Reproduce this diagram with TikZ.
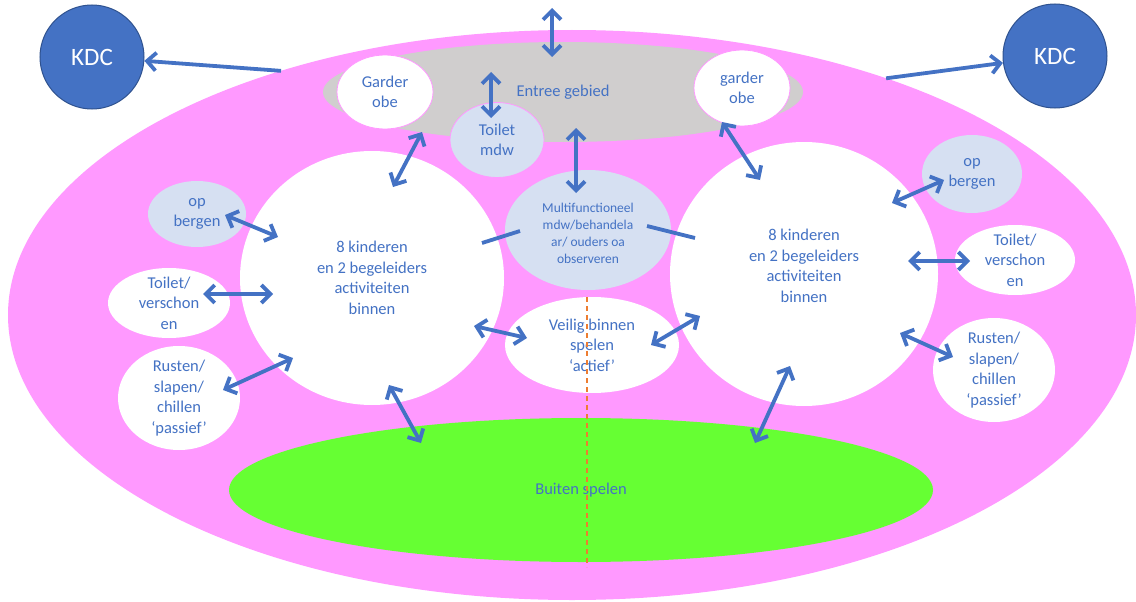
\documentclass[tikz,border=0pt]{standalone}
\usepackage{fontspec}
\setmainfont{Carlito}
\usetikzlibrary{arrows.meta,calc,shapes.geometric}
\definecolor{pinkbg}{RGB}{255,153,255}
\definecolor{greybg}{RGB}{208,206,206}
\definecolor{greenbg}{RGB}{102,255,51}
\definecolor{lblue}{RGB}{214,224,242}
\definecolor{txtblue}{RGB}{68,114,196}
\definecolor{arrblue}{RGB}{68,114,196}
\definecolor{kdcblue}{RGB}{68,114,196}
\definecolor{kdcedge}{RGB}{47,82,143}
\definecolor{dashor}{RGB}{237,125,49}
\tikzset{
  zone/.style={ellipse, inner sep=0pt, outer sep=0pt},
  txt/.style={text=txtblue, align=center, inner sep=0pt, font=\fontsize{16.5}{20.5}\selectfont},
  smalltxt/.style={text=txtblue, align=center, inner sep=0pt, font=\fontsize{13.5}{17}\selectfont},
  kdc/.style={circle, fill=kdcblue, draw=kdcedge, line width=1pt, minimum size=104pt, inner sep=0pt, text=white, font=\fontsize{25}{28}\selectfont},
  arr/.style={draw=arrblue, line width=3.8pt},
  divider/.style={draw=dashor, line width=1.2pt, dash pattern=on 5pt off 4pt}
}
\begin{document}
\begin{tikzpicture}[x=1pt,y=-1pt,>={Straight Barb[length=9pt,width=18pt]}]
\useasboundingbox (0,0) rectangle (1136,602);
% background areas
\node[zone, fill=pinkbg, minimum width=1128pt, minimum height=570pt] (pink) at (572,315) {};
\node[zone, fill=greybg, minimum width=480pt, minimum height=100pt,
      label={[txt]center:Entree gebied}] (entree) at (563,92) {};
\node[zone, fill=greenbg, minimum width=704pt, minimum height=144pt,
      label={[txt]center:Buiten spelen}] (green) at (581,490) {};
% big circles
\node[zone, fill=white, minimum width=264pt, minimum height=254pt,
      label={[txt]center:8 kinderen\\en 2 begeleiders\\activiteiten\\binnen}] (circL) at (372,278) {};
\node[zone, fill=white, minimum width=268pt, minimum height=264pt,
      label={[txt,yshift=8pt]center:8 kinderen\\en 2 begeleiders\\activiteiten\\binnen}] (circR) at (804,274) {};
% small areas
\node[zone, fill=white, draw=pinkbg, line width=0.8pt, minimum width=96pt, minimum height=74pt,
      label={[txt]center:Garder\\obe}] (garL) at (385,92) {};
\node[zone, fill=white, draw=pinkbg, line width=0.8pt, minimum width=96pt, minimum height=76pt,
      label={[txt]center:garder\\obe}] (garR) at (742,88) {};
\node[zone, fill=lblue, draw=pinkbg, line width=0.8pt, minimum width=94pt, minimum height=75pt,
      label={[txt]center:Toilet\\mdw}] (toiM) at (497,140) {};
\node[zone, fill=lblue, minimum width=166pt, minimum height=120pt,
      label={[smalltxt,yshift=-3pt]center:Multifunctioneel\\mdw/behandela\\ar/ ouders oa\\observeren}] (multi) at (588,230) {};
\node[zone, fill=white, minimum width=174pt, minimum height=96pt,
      label={[txt]center:Veilig binnen\\spelen\\‘actief’}] (veilig) at (592,345) {};
\node[zone, fill=lblue, minimum width=98pt, minimum height=66pt,
      label={[txt]center:op\\bergen}] (opL) at (197,214) {};
\node[zone, fill=white, minimum width=122pt, minimum height=70pt,
      label={[txt]center:Toilet/\\verschon\\en}] (toiL) at (169,303) {};
\node[zone, fill=white, minimum width=122pt, minimum height=104pt,
      label={[txt]center:Rusten/\\slapen/\\chillen\\‘passief’}] (rusL) at (179,398) {};
\node[zone, fill=lblue, minimum width=100pt, minimum height=78pt,
      label={[txt]center:op\\bergen}] (opR) at (972,174) {};
\node[zone, fill=white, minimum width=120pt, minimum height=70pt,
      label={[txt]center:Toilet/\\verschon\\en}] (toiR) at (1015,260) {};
\node[zone, fill=white, minimum width=122pt, minimum height=104pt,
      label={[txt]center:Rusten/\\slapen/\\chillen\\‘passief’}] (rusR) at (994,370) {};
% KDC
\node[kdc] (kdcL) at (92,57) {KDC};
\node[kdc] (kdcR) at (1055,56) {KDC};
% divider
\coordinate (divEnd) at (587,567);
\draw[divider] ($(veilig.north)+(-5,0)$) -- (divEnd);
% connectors
\coordinate (topEnd) at (552,8);
\draw[arr,->] (pink.140) -- (kdcL);
\draw[arr,->] (pink.37) -- (kdcR);
\draw[arr,<->] (topEnd) -- ($(entree)+(-11,-35)$);
\draw[arr,<->] ($(toiM)+(-6,-68)$) -- ($(toiM)+(-6,-22)$);
\draw[arr,<->] ($(entree)+(13,36)$) -- ($(multi)+(-12,-37)$);
\draw[arr,<->] ($(garL)+(37,40)$) -- ($(circL)+(21,-91)$);
\draw[arr,<->] ($(garR)+(-20,34)$) -- ($(circR)+(-44,-94)$);
\draw[arr] ($(circL)+(110,-35)$) -- ($(multi)+(-68,1)$);
\draw[arr] ($(multi)+(59,-4)$) -- ($(circR)+(-109,-36)$);
\draw[arr,<->] ($(opL)+(28,1)$) -- ($(circL)+(-94,-41)$);
\draw[arr,<->] ($(toiL)+(34,-9)$) -- ($(circL)+(-99,16)$);
\draw[arr,<->] ($(rusL)+(44,-8)$) -- ($(circL)+(-79,80)$);
\draw[arr,<->] ($(circL)+(17,107)$) -- ($(green)+(-160,-47)$);
\draw[arr,<->] ($(circR)+(-14,92)$) -- ($(green)+(174,-47)$);
\draw[arr,<->] ($(circL)+(102,48)$) -- ($(veilig)+(-65,-7)$);
\draw[arr,<->] ($(veilig)+(59,0)$) -- ($(circR)+(-104,42)$);
\draw[arr,<->] ($(circR)+(88,-71)$) -- ($(opR)+(-28,6)$);
\draw[arr,<->] ($(circR)+(104,-13)$) -- ($(toiR)+(-45,1)$);
\draw[arr,<->] ($(circR)+(96,59)$) -- ($(rusR)+(-41,-13)$);
\end{tikzpicture}
\end{document}
